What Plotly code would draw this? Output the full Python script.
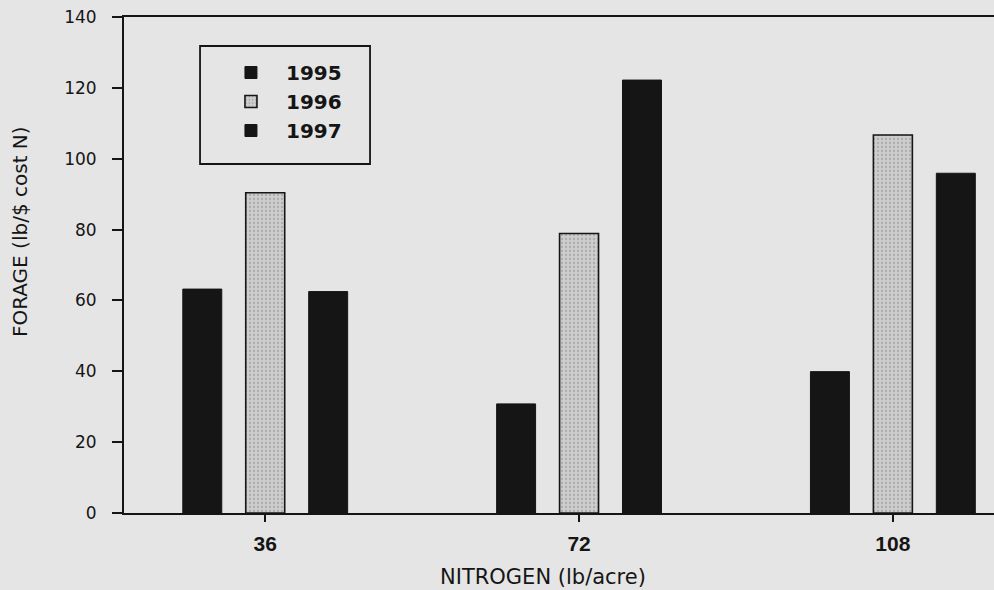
import plotly.graph_objects as go

# nitrogen rate (lb/acre) and forage return (lb per $ cost N)
nitrogen = [36, 72, 108]
years = ["1995", "1996", "1997"]
forage_1995 = [63.2, 30.8, 39.9]
forage_1996 = [90.4, 78.9, 106.7]
forage_1997 = [62.5, 122.2, 95.9]

bg = "#e5e5e5"
ink = "#151515"
bar_w = 4.47
step = 7.22

fig = go.Figure()
series = [forage_1995, forage_1996, forage_1997]
for i, (yr, vals) in enumerate(zip(years, series)):
    if yr == "1996":
        marker = dict(color="#c6c6c6", line=dict(color=ink, width=1.6),
                      pattern=dict(shape=".", fgcolor="#8a8a8a", bgcolor="#cdcdcd",
                                   size=4, solidity=0.25))
    else:
        marker = dict(color=ink, line=dict(color=ink, width=1))
    fig.add_trace(go.Bar(x=nitrogen, y=vals, name=yr, width=bar_w,
                         offset=(i - 1) * step - bar_w / 2, marker=marker))

fig.update_layout(
    width=994, height=590,
    margin=dict(l=124, r=0, t=17, b=77),
    paper_bgcolor=bg, plot_bgcolor=bg,
    barmode="overlay",
    font=dict(family="DejaVu Sans, Arial, sans-serif", color=ink),
    legend=dict(x=0.1057, y=0.9274, xanchor="left", yanchor="top",
                bgcolor="rgba(0,0,0,0)", borderwidth=0,
                font=dict(family="DejaVu Sans", size=20, weight="bold", color=ink),
                itemwidth=60),
    showlegend=True,
)
# frame round the legend, a bit roomier than plotly's own box
fig.add_shape(type="rect", xref="paper", yref="paper",
              x0=0.0874, x1=0.2828, y0=0.7036, y1=0.9415,
              line=dict(color=ink, width=1.8), fillcolor="rgba(0,0,0,0)")

fig.update_xaxes(range=[19.8, 119.6], tickvals=nitrogen, ticktext=[str(n) for n in nitrogen],
                 showline=True, linecolor=ink, linewidth=2, mirror=True,
                 ticks="outside", ticklen=7, tickwidth=2, tickcolor=ink,
                 tickfont=dict(family="Liberation Sans", size=21, weight="bold", color=ink),
                 ticklabelstandoff=4, showgrid=False, zeroline=False)
fig.update_yaxes(range=[0, 140], tickvals=list(range(0, 141, 20)),
                 showline=True, linecolor=ink, linewidth=2,
                 ticks="outside", ticklen=10, tickwidth=2, tickcolor=ink,
                 tickfont=dict(size=17, color=ink), ticklabelstandoff=12,
                 showgrid=False, zeroline=False)

fig.add_annotation(text="FORAGE (lb/$ cost N)", textangle=-90, showarrow=False,
                   xref="paper", yref="paper", x=-0.1195, y=0.5665,
                   xanchor="center", yanchor="middle",
                   font=dict(family="DejaVu Sans", size=20, color=ink))
fig.add_annotation(text="NITROGEN (lb/acre)", showarrow=False,
                   xref="paper", yref="paper", x=0.4816, y=-0.129,
                   xanchor="center", yanchor="middle",
                   font=dict(family="DejaVu Sans", size=21, color=ink))

# page margin off so the figure sits at the window origin
fig.write_html("out.html", config={"displayModeBar": False},
               post_script="document.body.style.margin='0';")
